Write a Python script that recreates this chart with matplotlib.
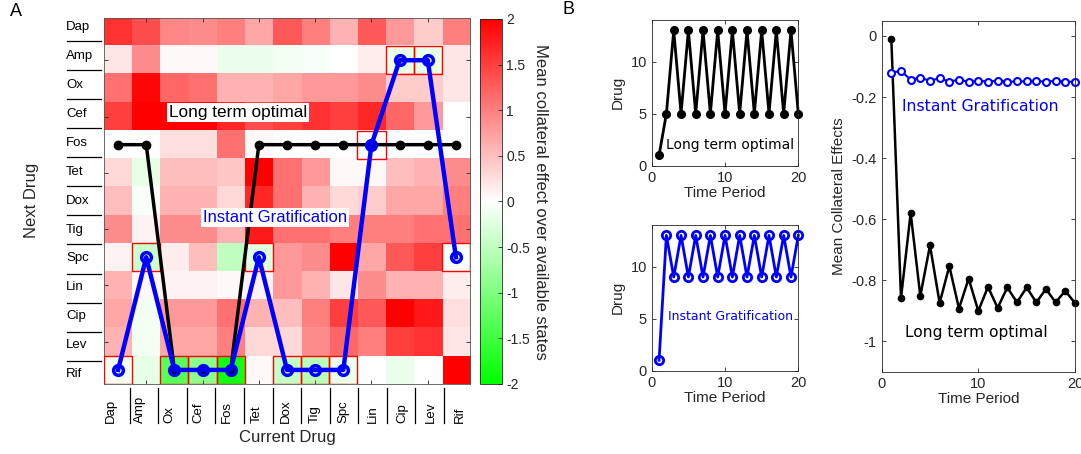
import numpy as np
import matplotlib
matplotlib.use("Agg")
import matplotlib.pyplot as plt
from matplotlib.colors import LinearSegmentedColormap
from matplotlib.patches import Rectangle
from matplotlib.ticker import FuncFormatter

plt.rcParams["font.family"] = ["Liberation Sans", "DejaVu Sans"]
plt.rcParams["axes.unicode_minus"] = False

# ---- data -----------------------------------------------------------------
drugs = ["Dap", "Amp", "Ox", "Cef", "Fos", "Tet", "Dox", "Tig", "Spc",
         "Lin", "Cip", "Lev", "Rif"]

# rows = next drug, columns = current drug
effect = np.array([
    [1.6, 1.4, 0.95, 0.9, 1.0, 0.7, 1.3, 1.0, 0.6, 1.3, 0.8, 0.4, 1.0],
    [0.2, 0.9, 0.05, 0.05, -0.15, -0.15, -0.1, -0.05, 0.0, 0.15, -0.2, -0.2, 0.2],
    [1.1, 1.95, 1.2, 1.1, 0.6, 0.6, 0.7, 0.8, 0.8, 0.9, 0.4, 0.4, 0.2],
    [1.5, 2.0, 2.0, 2.0, 1.7, 1.4, 1.5, 1.6, 1.5, 1.7, 1.2, 0.8, 0.0],
    [0.0, 0.0, 0.25, 0.25, 1.1, 0.05, 0.0, 0.0, 0.0, 0.0, 0.0, 0.0, 0.0],
    [0.3, -0.2, 0.5, 0.5, 0.45, 2.0, 1.1, 0.8, 0.05, 0.05, 0.5, 0.6, 0.9],
    [0.5, -0.05, 0.6, 0.6, 0.3, 1.7, 1.1, 0.6, 0.3, 0.4, 0.7, 0.7, 1.0],
    [0.9, 0.1, 0.9, 0.9, 0.6, 1.8, 1.1, 1.1, 1.0, 1.0, 1.0, 1.1, 1.1],
    [0.1, -0.4, 0.15, 0.5, -0.5, -0.25, 0.8, 0.9, 2.0, 0.7, 1.3, 1.5, -0.05],
    [0.6, 0.05, 0.1, 0.1, 0.05, 0.1, 0.8, 0.6, 0.2, 0.9, 0.6, 0.6, 0.15],
    [0.7, -0.1, 0.8, 0.8, 1.1, 0.6, 0.5, 1.0, 1.5, 1.3, 2.0, 1.8, 0.25],
    [0.6, -0.1, 0.7, 0.7, 1.0, 0.3, 0.3, 0.9, 1.2, 1.0, 1.5, 1.6, 0.2],
    [-0.1, -0.2, -1.3, -0.9, -1.85, 0.05, -0.45, -0.55, -0.15, 0.0, -0.15, 0.0, 2.0],
])

# next drug chosen for each current drug (1-based drug index)
policy_long = [5, 5, 13, 13, 13, 5, 5, 5, 5, 5, 5, 5, 5]
policy_instant = [13, 9, 13, 13, 13, 9, 13, 13, 13, 5, 2, 2, 9]

time_period = np.arange(1, 21)
drug_long = [1, 5, 13, 5, 13, 5, 13, 5, 13, 5, 13, 5, 13, 5, 13, 5, 13, 5, 13, 5]
drug_instant = [1, 13, 9, 13, 9, 13, 9, 13, 9, 13, 9, 13, 9, 13, 9, 13, 9, 13, 9, 13]

mce_long = [-0.01, -0.859, -0.58, -0.852, -0.686, -0.875, -0.754, -0.893,
            -0.795, -0.901, -0.822, -0.891, -0.824, -0.873, -0.824, -0.873,
            -0.829, -0.873, -0.835, -0.875]
mce_instant = [-0.12, -0.115, -0.143, -0.137, -0.147, -0.138, -0.15, -0.143,
               -0.15, -0.146, -0.15, -0.146, -0.15, -0.149, -0.149, -0.147,
               -0.15, -0.147, -0.15, -0.15]

DARK = "#262626"
BLUE = "#0000ff"

fig = plt.figure(figsize=(10.81, 4.54), dpi=100)

# ---- panel A: heatmap -----------------------------------------------------
cmap = LinearSegmentedColormap.from_list(
    "gwr", [(0.0, (0, 1, 0)), (0.5, (1, 1, 1)), (1.0, (1, 0, 0))])

ax = fig.add_axes([0.0962, 0.1542, 0.3386, 0.8062])
n = len(drugs)
im = ax.imshow(effect, cmap=cmap, vmin=-2, vmax=2, aspect="auto",
               extent=(0.5, n + 0.5, n + 0.5, 0.5), interpolation="nearest")

cols = np.arange(1, n + 1)
for c, r in zip(cols, policy_instant):
    ax.add_patch(Rectangle((c - 0.5, r - 0.5), 1, 1, fill=False,
                           edgecolor="red", lw=1.0, zorder=3))

ax.plot(cols, policy_long, "-o", color="black", lw=2.5, ms=6,
        mfc="black", zorder=4)
ax.plot(cols, policy_instant, "-o", color=BLUE, lw=3.2, ms=7,
        mfc="none", mew=2.5, zorder=5)

ax.text(2.8, 3.87, "Long term optimal", fontsize=12.4, color="black",
        va="center", ha="left", zorder=6,
        bbox=dict(facecolor="white", edgecolor="none", pad=1.5))
ax.text(4.0, 7.59, "Instant Gratification", fontsize=12, color=BLUE,
        va="center", ha="left", zorder=6,
        bbox=dict(facecolor="white", edgecolor="none", pad=1.5))

ax.set_xlim(0.5, n + 0.5)
ax.set_ylim(n + 0.5, 0.5)
ax.set_xticks(np.arange(2, n, 2))
ax.set_yticks(np.arange(2, n, 2))
ax.set_xticklabels([])
ax.set_yticklabels([])
ax.tick_params(direction="in", length=3, top=True, right=True, color=DARK,
               width=0.6)
for s in ax.spines.values():
    s.set_color("#555555")
    s.set_linewidth(0.6)

# hand-placed drug labels with separator lines (axes fractions)
tr = ax.transAxes
for lab, yf in zip(drugs, np.linspace(0.975, 0.027, n)):
    ax.text(-0.104, yf, lab, transform=tr, ha="left", va="center",
            fontsize=9.5, clip_on=False)
for yf in np.linspace(0.938, 0.063, n - 1):
    ax.plot([-0.101, -0.008], [yf, yf], transform=tr, color="black",
            lw=0.9, clip_on=False)
for lab, xf in zip(drugs, np.linspace(0.019, 0.973, n)):
    ax.text(xf, -0.107, lab, transform=tr, ha="center", va="bottom",
            rotation=90, fontsize=9.5, clip_on=False)
for xf in np.linspace(0.070, 0.929, n - 1):
    ax.plot([xf, xf], [-0.011, -0.107], transform=tr, color="black",
            lw=0.9, clip_on=False)

ax.text(0.5, -0.145, "Current Drug", transform=tr, ha="center", va="center",
        fontsize=12, color=DARK)
ax.text(-0.197, 0.503, "Next Drug", transform=tr, ha="center", va="center",
        rotation=90, fontsize=12, color=DARK)

cax = fig.add_axes([0.4440, 0.1542, 0.0204, 0.8040])
cb = fig.colorbar(im, cax=cax)
cb.set_ticks(np.arange(-2, 2.01, 0.5))
cb.ax.yaxis.set_major_formatter(FuncFormatter(lambda v, p: f"{v:g}"))
cb.ax.tick_params(direction="in", length=3, labelsize=10, colors=DARK,
                  width=0.6, pad=3)
cb.outline.set_edgecolor(DARK)
cb.outline.set_linewidth(0.6)
cax.text(2.75, 0.5, "Mean collateral effect over available states",
         transform=cax.transAxes, rotation=-90, ha="center", va="center",
         fontsize=12, color=DARK)

fig.text(16 / 1081, 1 - 11 / 454, "A", fontsize=13, ha="center",
         va="center")
fig.text(568 / 1081, 1 - 9 / 454, "B", fontsize=13, ha="center",
         va="center")


def style_axes(a):
    a.tick_params(direction="in", length=3, top=True, right=True,
                  labelsize=10.5, colors=DARK, width=0.6)
    for s in a.spines.values():
        s.set_color(DARK)
        s.set_linewidth(0.6)


# ---- panel B: drug sequences ---------------------------------------------
ax1 = fig.add_axes([0.6029, 0.6350, 0.1356, 0.3209])
ax1.plot(time_period, drug_long, "-o", color="black", lw=2, ms=5.5,
         mfc="black", clip_on=False)
ax1.text(2.0, 2.0, "Long term optimal", fontsize=10,
         family="DejaVu Sans", color="black", va="center", ha="left")
ax1.set_xlim(0, 20)
ax1.set_ylim(0, 14)
ax1.set_xticks([0, 10, 20])
ax1.set_yticks([0, 5, 10])
ax1.set_xlabel("Time Period", fontsize=11, color=DARK, labelpad=1)
ax1.set_ylabel("Drug", fontsize=11, color=DARK, labelpad=4)
style_axes(ax1)

ax2 = fig.add_axes([0.6029, 0.1835, 0.1356, 0.3209])
ax2.plot(time_period, drug_instant, "-o", color=BLUE, lw=2, ms=6,
         mfc="none", mew=2, clip_on=False)
ax2.text(2.18, 5.19, "Instant Gratification", fontsize=9,
         family="DejaVu Sans", color=BLUE, va="center", ha="left")
ax2.set_xlim(0, 20)
ax2.set_ylim(0, 14)
ax2.set_xticks([0, 10, 20])
ax2.set_yticks([0, 5, 10])
ax2.set_xlabel("Time Period", fontsize=11, color=DARK, labelpad=1)
ax2.set_ylabel("Drug", fontsize=11, color=DARK, labelpad=4)
style_axes(ax2)

# ---- panel B: mean collateral effects ------------------------------------
ax3 = fig.add_axes([0.8156, 0.1813, 0.1788, 0.7731])
ax3.plot(time_period, mce_long, "-o", color="black", lw=1.8, ms=4.5,
         mfc="black", clip_on=False)
ax3.plot(time_period, mce_instant, "-o", color=BLUE, lw=1.5, ms=5,
         mfc="white", mew=1.5, clip_on=False)
ax3.text(2.07, -0.231, "Instant Gratification", fontsize=11.3,
         family="DejaVu Sans", color=BLUE, va="center", ha="left")
ax3.text(2.41, -0.97, "Long term optimal", fontsize=11.2,
         family="DejaVu Sans", color="black", va="center", ha="left")
ax3.set_xlim(0, 20)
ax3.set_ylim(-1.1, 0.05)
ax3.set_xticks([0, 10, 20])
ax3.set_yticks([-1, -0.8, -0.6, -0.4, -0.2, 0])
ax3.yaxis.set_major_formatter(FuncFormatter(lambda v, p: f"{v:g}"))
ax3.set_xlabel("Time Period", fontsize=11, color=DARK, labelpad=1)
ax3.set_ylabel("Mean Collateral Effects", fontsize=11, color=DARK,
               labelpad=4)
style_axes(ax3)

fig.savefig("out.png", dpi=100)
